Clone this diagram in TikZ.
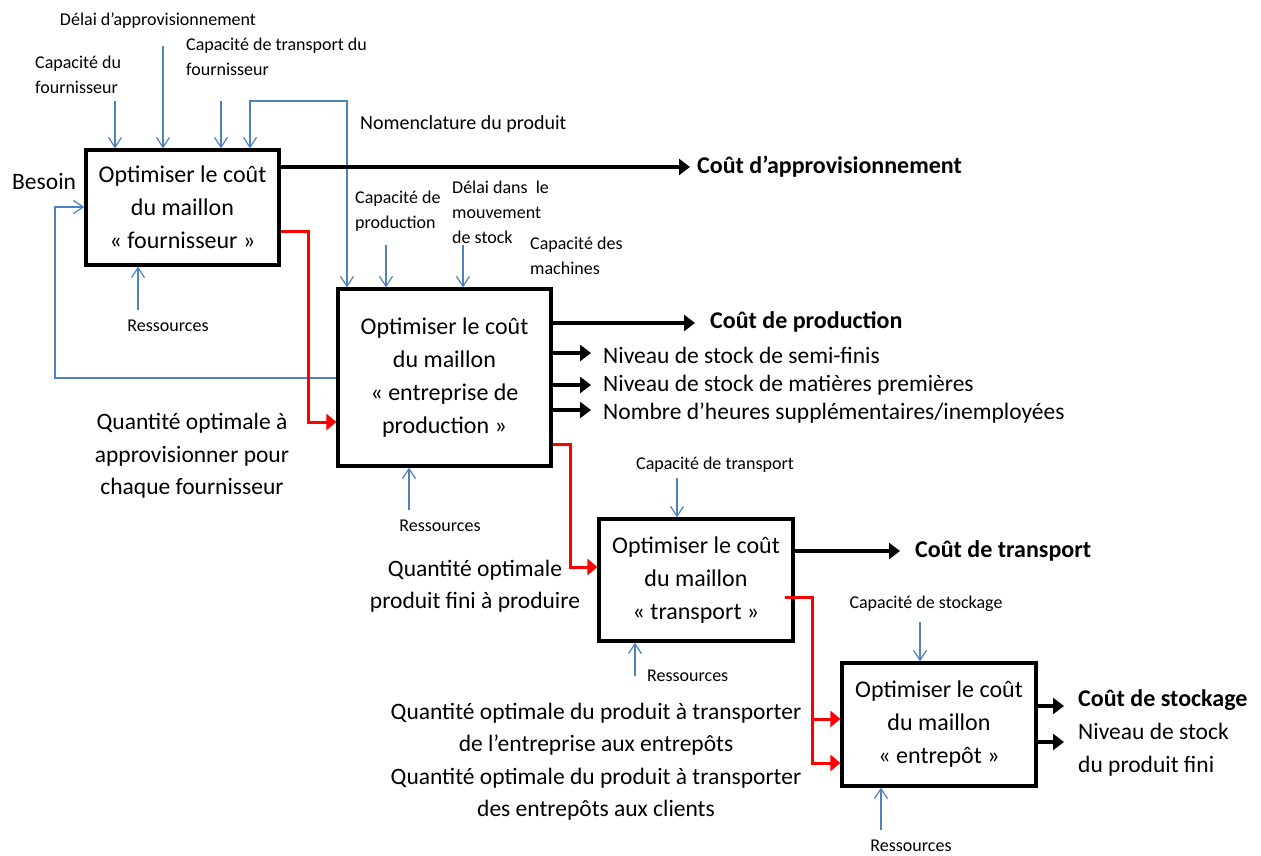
\documentclass[tikz,border=0pt]{standalone}
\usepackage{fontspec}
\setmainfont{Carlito}
\usetikzlibrary{arrows.meta}
\definecolor{bl}{RGB}{79,129,189}
\definecolor{rd}{RGB}{255,0,0}
\begin{document}
\begin{tikzpicture}[x=1pt,y=-1pt,
  box/.style={draw,line width=3.2pt,inner sep=0pt,align=center,font=\fontsize{24}{33}\selectfont},
  inarr/.style={draw=bl,line width=1.2pt,-{Straight Barb[length=10pt,width=13pt]}},
  inboth/.style={draw=bl,line width=1.2pt,{Straight Barb[length=10pt,width=13pt]}-{Straight Barb[length=10pt,width=13pt]}},
  outarr/.style={draw=black,line width=3.2pt,-{Triangle[length=11pt,width=16pt]}},
  redarr/.style={draw=rd,line width=3pt,-{Triangle[length=10pt,width=16pt]}},
  sm/.style={inner sep=0pt,font=\fontsize{18}{25}\selectfont},
  md/.style={inner sep=0pt,font=\fontsize{23.5}{32.5}\selectfont},
  bd/.style={inner sep=0pt,font=\fontsize{24}{30}\selectfont\bfseries}]
\useasboundingbox (0,0) rectangle (1261,855);

% boxes
\node[box,minimum width=193pt,minimum height=115pt] (b1) at (182.5,207.5) {Optimiser le coût\\du maillon\\« fournisseur »};
\node[box,minimum width=213pt,minimum height=177pt] (b2) at (444.5,377.5) {Optimiser le coût\\du maillon\\« entreprise de\\production »};
\node[box,minimum width=194pt,minimum height=122pt] (b3) at (696,580) {Optimiser le coût\\du maillon\\« transport »};
\node[box,minimum width=194pt,minimum height=123pt] (b4) at (939,724.5) {Optimiser le coût\\du maillon\\« entrepôt »};

% top labels box 1
\node[sm] (lDel) at (158,21) {Délai d’approvisionnement};
\node[sm,anchor=west,align=left] (lCapF) at (35,74.5) {Capacité du\\fournisseur};
\node[sm,anchor=west,align=left] (lCapT) at (186,56.5) {Capacité de transport du\\fournisseur};
\node[inner sep=0pt,font=\fontsize{20}{25}\selectfont,anchor=west] (lNom) at (360,124) {Nomenclature du produit};
\node[md,anchor=west] (lBes) at (12,181) {Besoin};
\node[sm] (lR1) at (168,326) {Ressources};

\coordinate (t1) at (115,101);
\coordinate (t2) at (163,46);
\coordinate (t3) at (221,101);
\coordinate (n1) at (250,101);
\coordinate (n2) at (347,101);
\draw[inarr] (t1) -- (t1 |- b1.north);
\draw[inarr] (t2) -- (t2 |- b1.north);
\draw[inarr] (t3) -- (t3 |- b1.north);
\draw[inboth] (b1.north -| n1) -- (n1) -- (n2) -- (n2 |- b2.north);
\coordinate (bs1) at (55,378);
\coordinate (bs2) at (55,207);
\draw[inarr] (b2.west |- bs1) -- (bs1) -- (bs2) -- (b1.west |- bs2);
\coordinate (rs1) at (138,310);
\draw[inarr] (rs1) -- (rs1 |- b1.south);

% box 1 output
\coordinate (oA) at (690,167);
\draw[outarr] (b1.east |- oA) -- (oA);
\node[bd,anchor=west] (lA) at (697,167) {Coût d’approvisionnement};

% box 2 labels and inputs
\node[sm,anchor=west,align=left] (lCapP) at (355,211.5) {Capacité de\\production};
\node[sm,anchor=west,align=left] (lDelS) at (452,212) {Délai dans~ le\\mouvement\\de stock};
\node[sm,anchor=west,align=left] (lCapM) at (530,256) {Capacité des\\machines};
\coordinate (t4) at (386,245);
\coordinate (t5) at (463,245);
\draw[inarr] (t4) -- (t4 |- b2.north);
\draw[inarr] (t5) -- (t5 |- b2.north);
\coordinate (rs2) at (409,510);
\draw[inarr] (rs2) -- (rs2 |- b2.south);
\node[sm] (lR2) at (440,526) {Ressources};

% box 2 outputs
\coordinate (oP) at (695,323);
\draw[outarr] (b2.east |- oP) -- (oP);
\node[bd,anchor=west] (lP) at (710,322) {Coût de production};
\coordinate (oS1) at (591,353);
\coordinate (oS2) at (591,385);
\coordinate (oS3) at (591,410);
\draw[outarr] (b2.east |- oS1) -- (oS1);
\draw[outarr] (b2.east |- oS2) -- (oS2);
\draw[outarr] (b2.east |- oS3) -- (oS3);
\node[md,anchor=west] (lS1) at (603,355) {Niveau de stock de semi-finis};
\node[md,anchor=west] (lS2) at (603,385) {Niveau de stock de matières premières};
\node[md,anchor=west] (lS3) at (603,413) {Nombre d’heures supplémentaires/inemployées};

% red 1
\coordinate (r1) at (308,231);
\coordinate (r1b) at (308,422);
\draw[redarr] (b1.east |- r1) -- (r1) -- (r1b) -- (b2.west |- r1b);
\node[md,align=center] (lQ1) at (192,456) {Quantité optimale à\\approvisionner pour\\chaque fournisseur};

% red 2
\coordinate (r2) at (570,444);
\coordinate (r2b) at (570,567);
\draw[redarr] (b2.east |- r2) -- (r2) -- (r2b) -- (b3.west |- r2b);
\node[md,align=center] (lQ2) at (475,586) {Quantité optimale\\produit fini à produire};

% box 3
\node[sm] (lCapTr) at (715,465) {Capacité de transport};
\coordinate (t6) at (677,478);
\draw[inarr] (t6) -- (t6 |- b3.north);
\coordinate (rs3) at (635,676);
\draw[inarr] (rs3) -- (rs3 |- b3.south);
\node[sm,anchor=west] (lR3) at (647,676) {Ressources};
\coordinate (oT) at (900,551);
\draw[outarr] (b3.east |- oT) -- (oT);
\node[bd,anchor=west] (lT) at (915,551) {Coût de transport};

% red 3
\coordinate (r3s) at (785,597);
\coordinate (r3) at (812,597);
\coordinate (r3c) at (812,719);
\coordinate (r3b) at (812,763);
\draw[redarr] (r3s) -- (r3) -- (r3b) -- (b4.west |- r3b);
\draw[redarr] (r3c) -- (b4.west |- r3c);
\node[md,align=center] (lQ3) at (596,761.5) {Quantité optimale du produit à transporter\\de l’entreprise aux entrepôts\\Quantité optimale du produit à transporter\\des entrepôts aux clients};

% box 4
\node[sm] (lCapSt) at (926,604) {Capacité de stockage};
\coordinate (t7) at (920,622);
\draw[inarr] (t7) -- (t7 |- b4.north);
\coordinate (rs4) at (881,830);
\draw[inarr] (rs4) -- (rs4 |- b4.south);
\node[sm] (lR4) at (911,846) {Ressources};
\coordinate (oSt1) at (1064,706);
\coordinate (oSt2) at (1064,742);
\draw[outarr] (b4.east |- oSt1) -- (oSt1);
\draw[outarr] (b4.east |- oSt2) -- (oSt2);
\node[bd,anchor=west] (lSt) at (1078,700) {Coût de stockage};
\node[md,anchor=west,align=left] (lNS) at (1078,749.5) {Niveau de stock\\du produit fini};
\end{tikzpicture}
\end{document}
